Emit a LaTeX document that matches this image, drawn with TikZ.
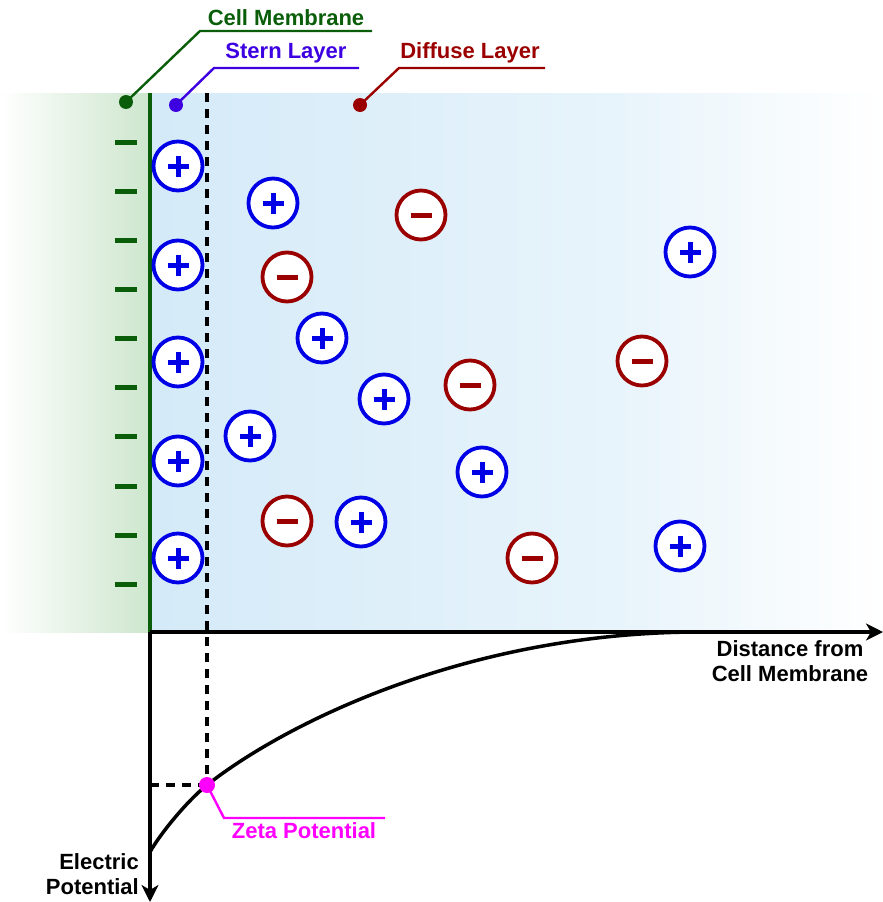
\documentclass[tikz,border=0pt]{standalone}
\usepackage{fontspec}
\setmainfont{Liberation Sans}
\usetikzlibrary{arrows.meta}

\definecolor{membrane}{RGB}{10,94,10}
\definecolor{membranewash}{RGB}{205,230,205}
\definecolor{sternblue}{RGB}{60,0,225}
\definecolor{diffusered}{RGB}{155,0,0}
\definecolor{cationblue}{RGB}{0,0,230}
\definecolor{anionred}{RGB}{155,0,0}
\definecolor{zetapink}{RGB}{255,0,255}
\definecolor{fluidL}{RGB}{212,234,248}
\definecolor{fluidM}{RGB}{232,244,251}

\tikzset{
  ion/.style={circle, minimum size=49pt, inner sep=0pt, line width=3.8pt, fill=white},
  cation/.style={ion, draw=cationblue,
    path picture={\draw[cationblue, line width=5pt]
      ([xshift=-10.5pt]path picture bounding box.center) -- ([xshift=10.5pt]path picture bounding box.center)
      ([yshift=-10.5pt]path picture bounding box.center) -- ([yshift=10.5pt]path picture bounding box.center);}},
  anion/.style={ion, draw=anionred,
    path picture={\draw[anionred, line width=5pt]
      ([xshift=-10.5pt]path picture bounding box.center) -- ([xshift=10.5pt]path picture bounding box.center);}},
  leader/.style={line width=2.4pt},
  labeltext/.style={inner sep=0pt},
  axisline/.style={line width=3.5pt, -{Stealth[length=17pt, width=17pt, inset=5pt]}},
  guide/.style={line width=3.6pt, dash pattern=on 9pt off 7pt},
  surfacecharge/.style={membrane, line width=5pt},
}

\begin{document}
\begin{tikzpicture}[x=1pt, y=-1pt, font=\fontsize{22}{25.5}\selectfont\bfseries]
\useasboundingbox (0,0) rectangle (883,902);

% background: membrane side and fluid side
\shade[left color=white, right color=membranewash] (0,93) rectangle (150,632);
\shade[left color=fluidL, right color=fluidM] (150,93) rectangle (621,632);
\shade[left color=fluidM, right color=white] (620,93) rectangle (883,632);

% cell membrane
\draw[membrane, line width=3.5pt] (150,93) -- (150,632);
\foreach \y in {142,191,240,289,338,387,436,486,535,584}
  \draw[surfacecharge] (115,\y) -- (137,\y);

% outer edge of the Stern layer
\coordinate (sternTop) at (207,93);
\coordinate (zeta) at (207,785);
\draw[guide] (sternTop) -- (zeta);

% ions in the Stern layer
\node[cation] (s1) at (178,166) {};
\node[cation] (s2) at (178,265) {};
\node[cation] (s3) at (178,362) {};
\node[cation] (s4) at (178,461) {};
\node[cation] (s5) at (178,558) {};

% ions in the diffuse layer
\node[cation] (d1) at (273,203) {};
\node[cation] (d2) at (322,338) {};
\node[cation] (d3) at (384,399) {};
\node[cation] (d4) at (250,436) {};
\node[cation] (d5) at (482,472) {};
\node[cation] (d6) at (361,522) {};
\node[cation] (d7) at (690,252) {};
\node[cation] (d8) at (680,546) {};
\node[anion] (a1) at (421,215) {};
\node[anion] (a2) at (287,277) {};
\node[anion] (a3) at (642,361) {};
\node[anion] (a4) at (470,385) {};
\node[anion] (a5) at (287,521) {};
\node[anion] (a6) at (532,558) {};

% axes
\coordinate (origin) at (150,632);
\coordinate (xEnd) at (883,632);
\coordinate (yEnd) at (150,902);
\coordinate (potStart) at (150,852);
\coordinate (potEnd) at (700,632);
\coordinate (zetaLevel) at (150,785);
\draw[guide] (zetaLevel) -- (zeta);
\draw[line width=3.5pt] (potStart) .. controls (160,834) and (187,801) .. (zeta)
  .. controls (287,722) and (470,632) .. (potEnd);
\draw[axisline] (origin) -- (xEnd);
\draw[axisline] (origin) -- (yEnd);

\node[labeltext, align=center] (xLabel) at (790,661) {Distance from\\Cell Membrane};
\node[labeltext, align=right, anchor=east] (yLabel) at (139,874) {Electric\\Potential};

% labels with leaders
\coordinate (cmDot) at (126,102);
\coordinate (cmBend) at (200,31);
\coordinate (cmEnd) at (372,31);
\draw[membrane, leader] (cmDot) -- (cmBend) -- (cmEnd);
\fill[membrane] (cmDot) circle (7);
\node[labeltext, text=membrane] (cmLabel) at (286,18) {Cell Membrane};

\coordinate (stDot) at (176,105);
\coordinate (stBend) at (214,68);
\coordinate (stEnd) at (359,68);
\draw[sternblue, leader] (stDot) -- (stBend) -- (stEnd);
\fill[sternblue] (stDot) circle (7);
\node[labeltext, text=sternblue] (stLabel) at (286,53) {Stern Layer};

\coordinate (dfDot) at (360,105);
\coordinate (dfBend) at (399,68);
\coordinate (dfEnd) at (545,68);
\draw[diffusered, leader] (dfDot) -- (dfBend) -- (dfEnd);
\fill[diffusered] (dfDot) circle (7);
\node[labeltext, text=diffusered] (dfLabel) at (470,53) {Diffuse Layer};

\coordinate (zBend) at (224,818);
\coordinate (zEnd) at (385,818);
\draw[zetapink, leader] (zeta) -- (zBend) -- (zEnd);
\fill[zetapink] (zeta) circle (8);
\node[labeltext, text=zetapink] (zLabel) at (304,831) {Zeta Potential};
\end{tikzpicture}
\end{document}
